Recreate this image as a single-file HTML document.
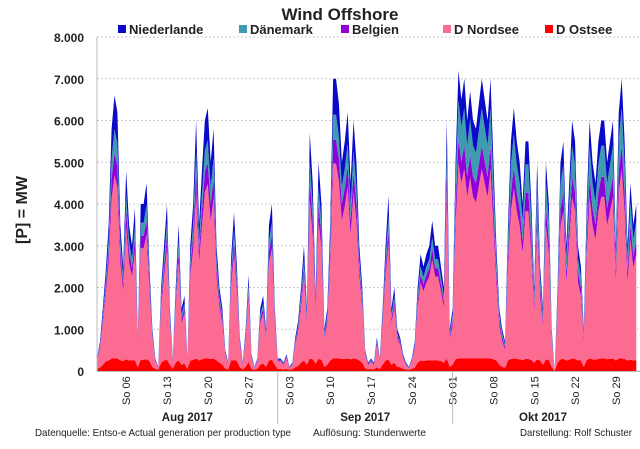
<!DOCTYPE html>
<html><head><meta charset="utf-8"><style>
html,body{margin:0;padding:0;background:#fff;width:640px;height:449px;overflow:hidden}
svg{display:block;font-family:"Liberation Sans",sans-serif}
</style></head><body>
<svg id="chart" width="640" height="449" viewBox="0 0 640 449">
<text x="340" y="20" text-anchor="middle" font-size="17" font-weight="bold" fill="#222">Wind Offshore</text>
<g id="legend"></g>
<g id="grid"></g>
<g id="areas"></g>
<g id="axes"></g>
<text transform="translate(27,210) rotate(-90)" text-anchor="middle" font-size="16" font-weight="bold" fill="#222">[P]   = MW</text>
<text x="35" y="436" font-size="10.5" textLength="256" lengthAdjust="spacingAndGlyphs" fill="#222">Datenquelle: Entso-e  Actual generation per production type</text>
<text x="313" y="436" font-size="10.5" textLength="113" lengthAdjust="spacingAndGlyphs" fill="#222">Auflösung: Stundenwerte</text>
<text x="520" y="436" font-size="10.5" textLength="112" lengthAdjust="spacingAndGlyphs" fill="#222">Darstellung:  Rolf Schuster</text>
</svg>
<script>
const seriesNames = ["D Ostsee","D Nordsee","Belgien","Dänemark","Niederlande"];
const yTicks = [0,1000,2000,3000,4000,5000,6000,7000,8000];
const yTickLabels = ["0","1.000","2.000","3.000","4.000","5.000","6.000","7.000","8.000"];
const sundayDays = [5,12,19,26,33,40,47,54,61,68,75,82,89];
const sundayLabels = ["So 06","So 13","So 20","So 27","So 03","So 10","So 17","So 24","So 01","So 08","So 15","So 22","So 29"];
const monthStarts = [0,31,61];
const monthLabels = ["Aug 2017","Sep 2017","Okt 2017"];
const ostsee = [50,80,150,230,250,300,300,300,250,240, 280,250,250,260,90,270,270,280,240,100, 50,30,200,250,270,150,50,200,250,150, 180,50,250,270,300,250,280,300,300,290, 300,250,200,150,60,40,250,260,240,90, 40,100,220,50,30,50,150,180,100,250, 270,150,
50,50,40,50,30,40,90,120,200,250, 150,300,280,180,290,270,100,150,250,300, 300,300,290,290,300,280,300,290,250,200, 60,40,50,40,90,50,150,250,270,150, 200,100,90,50,40,30,50,80,200,250, 240,250,250,250,250,250,240,200,300,100,
150,280,300,300,300,300,300,300,300,300, 300,300,300,300,280,250,150,100,80,250, 290,300,290,280,260,290,290,260,200,280, 250,150,280,260,100,0,200,280,290,250, 270,300,290,250,250,100,260,300,280,270, 290,300,300,280,290,300,250,300,300,290, 250,270,250,260];
const nordsee = [180,460,1000,1610,2360,3840,4380,4120,2360,1670, 3190,2360,2010,2610,540,2670,2670,2990,1670,680, 180,30,1330,2010,2670,1000,180,1330,2360,1000, 1200,180,2010,2670,3980,2360,3190,3980,4180,3310, 3840,2010,1330,1000,330,100,1800,2550,1670,540, 100,680,1550,260,30,180,1000,1200,680,2360, 2670,1000,
180,180,100,260,30,100,540,810,1330,2010, 1000,3780,2990,1200,3310,2670,680,1000,2360,4670, 4670,4250,3310,3660,4120,2990,3980,3310,2010,1330, 330,100,180,100,540,180,1000,2010,2800,1000, 1330,680,540,260,100,30,180,460,1330,1870, 1670,1870,2010,2420,2010,2010,1670,1330,3980,680,
930,3210,4680,4200,4540,3870,4340,3870,3740,4140, 4540,4200,3870,4540,3210,1880,930,620,430,2220, 3540,4070,3540,3210,2550,3540,3540,2550,1240,3210, 1550,930,3210,2550,620,0,1240,3210,3540,1880, 2880,3870,3540,1880,1550,620,2550,3870,3210,2880, 3540,3870,3870,3210,3540,3870,1880,4000,4540,3540, 1880,2880,2220,2550];
const belgien = [20,50,100,160,250,470,540,500,250,170, 380,250,200,290,50,300,300,350,170,60, 20,10,130,200,300,100,20,130,250,100, 120,20,200,300,490,250,380,490,510,400, 470,200,130,100,30,20,180,280,170,50, 20,60,150,30,10,20,100,120,60,250, 300,100,
20,20,20,30,10,20,50,80,130,200, 100,460,350,120,400,300,60,100,250,570, 570,520,400,440,500,350,490,400,200,130, 30,20,20,20,50,20,100,200,320,100, 130,60,50,30,20,10,20,50,130,190, 170,190,200,260,200,200,170,130,490,60,
120,400,570,520,560,480,530,480,460,510, 560,520,480,560,400,240,120,80,60,280, 440,500,440,400,320,440,440,320,160,400, 200,120,400,320,80,0,160,400,440,240, 360,480,440,240,200,80,320,480,400,360, 440,480,480,400,440,480,240,500,560,440, 240,360,280,320];
const daenemark = [20,40,100,160,260,490,570,530,260,170, 390,260,220,300,40,310,310,360,170,60, 20,10,140,220,310,100,20,140,260,100, 120,20,220,310,510,260,390,510,540,410, 490,220,140,100,30,10,190,290,170,40, 10,60,150,20,10,20,100,120,60,260, 310,100,
20,20,10,20,10,10,40,70,140,220, 100,480,360,120,410,310,60,100,260,600, 600,550,410,460,530,360,510,410,220,140, 30,10,20,10,40,20,100,220,330,100, 140,60,40,20,10,10,20,40,140,200, 170,200,220,270,220,220,170,140,510,60,
150,610,930,830,900,750,860,750,720,810, 900,830,750,900,610,330,150,100,60,400, 680,800,680,610,470,680,680,470,200,610, 250,150,610,470,100,0,200,610,680,330, 540,750,680,330,250,100,470,750,610,540, 680,750,750,610,680,750,330,780,900,680, 330,540,400,470];
const niederlande = [30,70,150,240,380,700,810,750,380,250, 560,380,320,440,80,450,450,520,250,100, 30,20,200,320,450,150,30,200,380,150, 180,30,320,450,720,380,560,720,770,590, 700,320,200,150,50,30,280,420,250,80, 30,100,230,40,20,30,150,180,100,380, 450,150,
30,30,30,40,20,30,80,120,200,320, 150,680,520,180,590,450,100,150,380,860, 860,780,590,650,750,520,720,590,320,200, 50,30,30,30,80,30,150,320,480,150, 200,100,80,40,30,20,30,70,200,290, 250,290,320,400,320,320,250,200,720,100,
150,500,720,650,700,600,670,600,580,640, 700,650,600,700,500,300,150,100,70,350, 550,630,550,500,400,550,550,400,200,500, 250,150,500,400,100,0,200,500,550,300, 450,600,550,300,250,100,400,600,500,450, 550,600,600,500,550,600,300,620,700,550, 300,450,350,400];

const NS='http://www.w3.org/2000/svg';
const X0=97, DAYW=5.83, Y0=371, YPX=41.75/1000;
const xDay = d => X0 + d*DAYW;
const xHalf = i => X0 + i*DAYW/2;
const yVal = v => Y0 - v*YPX;
function mk(tag, attrs, parent){const e=document.createElementNS(NS,tag);for(const k in attrs)e.setAttribute(k,attrs[k]);parent.appendChild(e);return e;}
const grid=document.getElementById('grid'), axes=document.getElementById('axes'), areas=document.getElementById('areas'), legend=document.getElementById('legend');

yTicks.forEach((v,k)=>{
  if(v>0){const l=mk('line',{x1:X0,x2:640,y1:yVal(v),y2:yVal(v),stroke:'#c8c8c8','stroke-dasharray':'2,2','stroke-width':1},grid);
  
  }
  const t=mk('text',{x:84,y:yVal(v)+5,'text-anchor':'end','font-size':12,'font-weight':'bold',fill:'#222'},axes);
  t.textContent=yTickLabels[k];
  
  
});

const colors=['#ff0000','#fb6b92','#9000d8','#3f9cb0','#0a0ac8'];
const series=[ostsee,nordsee,belgien,daenemark,niederlande];
const n=ostsee.length;
let base=new Array(n).fill(0);
series.forEach((s,si)=>{
  const top=base.map((b,i)=>b+s[i]);
  let d='M'+xHalf(0)+','+yVal(top[0]);
  for(let i=1;i<n;i++) d+=' L'+xHalf(i).toFixed(2)+','+yVal(top[i]).toFixed(2);
  for(let i=n-1;i>=0;i--) d+=' L'+xHalf(i).toFixed(2)+','+yVal(base[i]).toFixed(2);
  d+='Z';
  const p=mk('path',{d:d,fill:colors[si],stroke:'none'},areas);
  
  
  base=top;
});

const ax=mk('line',{x1:X0,x2:X0,y1:37,y2:Y0,stroke:'#bbb','stroke-width':1},axes);


const bx=mk('line',{x1:X0,x2:640,y1:Y0+0.5,y2:Y0+0.5,stroke:'#bbb','stroke-width':1},axes);



sundayDays.forEach((d,k)=>{
  const x=xDay(d)+4;
  const t=mk('text',{transform:'translate('+x+',405) rotate(-90)','font-size':11,fill:'#222'},axes);
  t.textContent=sundayLabels[k];
  
  
});
monthStarts.forEach((d,k)=>{
  const x=xDay(d);
  if(k>0){const l=mk('line',{x1:x,x2:x,y1:Y0,y2:424,stroke:'#bbb','stroke-width':1},axes);
  
  }
  const end=k+1<monthStarts.length?xDay(monthStarts[k+1]):xDay(92);
  const t=mk('text',{x:(x+end)/2,y:421,'text-anchor':'middle','font-size':11.5,'font-weight':'bold',fill:'#222'},axes);
  t.textContent=monthLabels[k];
  
  
});

const legX=[118,239,341,443,545];
const legOrder=[4,3,2,1,0];
legOrder.forEach((si,k)=>{
  const g=mk('g',{},legend);
  
  
  mk('rect',{x:legX[k],y:25,width:8,height:8,fill:colors[si]},g);
  const t=mk('text',{x:legX[k]+11,y:34,'font-size':13,'font-weight':'bold',fill:'#222'},g);
  t.textContent=seriesNames[si];
});
</script>
</body></html>
